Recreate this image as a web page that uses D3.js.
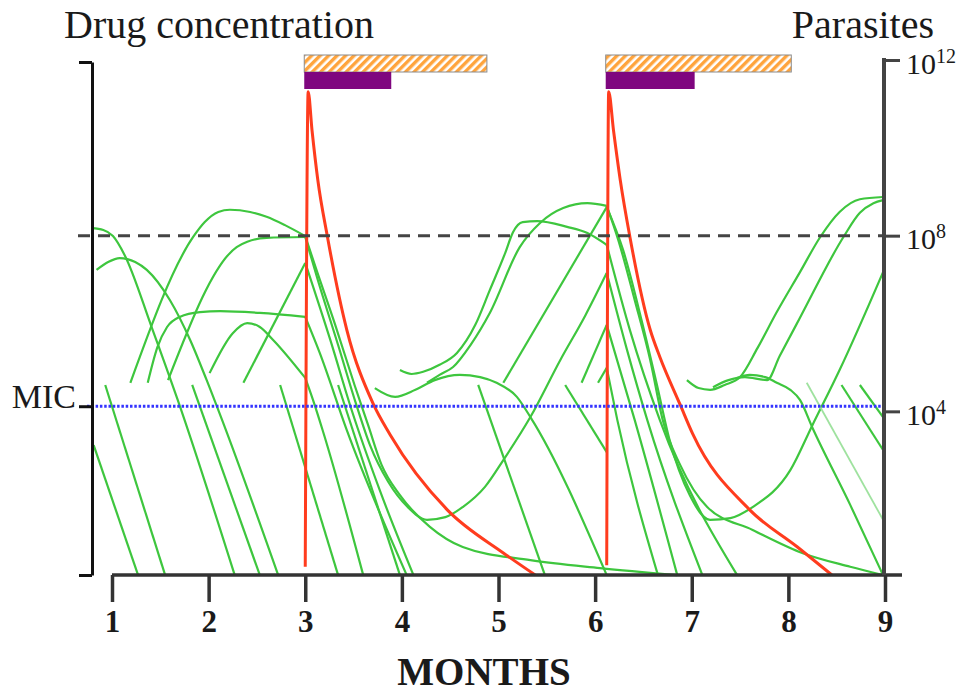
<!DOCTYPE html>
<html>
<head>
<meta charset="utf-8">
<title>Drug concentration and parasites</title>
<script src="https://cdn.jsdelivr.net/npm/d3@7"></script>
<style>
	body, html {
		margin: 0;
		background: #fff;
	}
	svg text {
		font-family: "Liberation Serif", "Times New Roman", serif;
		fill: #1a1a1a;
	}
</style>
</head>
<body>
<div id="chart"></div>
<script>
	// ---- data ----
	var months = [1, 2, 3, 4, 5, 6, 7, 8, 9];
	var parasiteTicks = [1e4, 1e8, 1e12];
	var treatStart = [3.0, 6.12];   // month each course starts
	var purpleEnd = [3.89, 7.03];
	var hatchEnd = [4.88, 8.03];
	var micLevel = 32.9;            // drug concentration units (0-100)
	var dashedLevel = 1e8;          // parasites

	// drug concentration, [month, concentration]
	var drugFirst = [[3.0, 1.6], [3.03, 94.2], [3.07, 86.7], [3.13, 77.0], [3.23, 65.9], [3.43, 47.8],
		[3.70, 33.5], [3.88, 27.3], [4.47, 12.7], [5.05, 4.3], [5.38, 0]];
	var drugSecond = [[6.12, 1.9], [6.14, 94.2], [6.19, 86.7], [6.26, 77.0], [6.36, 65.9], [6.57, 47.8],
		[6.67, 42.5], [6.88, 33.2], [7.01, 27.5], [7.60, 12.7], [8.09, 5.5], [8.45, 0]];

	// parasite trajectories, [month, log10 parasites]
	var wave1 = [
		[[0.79, 8.17], [0.91, 8.13], [1.01, 7.99], [1.13, 7.56], [1.41, 5.92], [1.68, 4.26], [2.27, 0.27]],
		[[0.84, 7.22], [0.96, 7.40], [1.08, 7.49], [1.24, 7.40], [1.36, 7.22], [1.60, 6.53], [1.81, 5.62],
			[1.98, 4.71], [2.14, 3.80], [2.72, 0.27]],
		[[0.81, 3.23], [1.27, 0.27]],
		[[0.93, 4.60], [1.55, 0.27]],
		[[1.83, 4.60], [2.53, 0.27]],
		[[2.74, 4.60], [3.34, 0.27]],
		[[1.19, 4.65], [1.84, 7.97], [1.96, 8.31], [2.10, 8.54], [2.22, 8.59], [2.43, 8.54], [2.60, 8.43],
			[2.79, 8.24], [3.0, 7.99], [3.11, 7.26], [3.31, 5.97], [3.51, 4.60], [3.65, 3.69], [3.79, 2.78],
			[3.98, 2.09], [4.29, 1.37], [4.63, 0.91], [5.33, 0.61], [6.05, 0.43], [6.85, 0.27]],
		[[1.37, 4.65], [1.47, 5.46], [1.57, 5.92], [1.70, 6.15], [1.91, 6.26], [2.12, 6.28], [2.53, 6.24],
			[3.0, 6.15], [3.15, 5.33], [3.43, 3.57], [4.05, 0.27]],
		[[1.58, 4.71], [2.29, 7.74], [2.40, 7.86], [2.60, 7.95], [3.0, 7.97], [3.13, 6.99], [3.34, 5.51],
			[3.53, 4.14], [3.67, 3.23], [3.86, 2.39], [4.06, 1.82], [4.26, 1.53], [4.45, 1.59], [4.63, 1.82],
			[4.86, 2.28], [5.05, 2.89], [5.33, 3.87], [5.64, 5.17], [5.90, 6.19], [6.12, 7.15], [6.33, 5.40],
			[6.54, 3.80], [7.11, 0.27]],
		[[2.01, 4.87], [2.25, 5.78], [2.40, 6.01], [2.53, 5.92], [2.67, 5.62], [3.0, 4.76], [3.08, 4.26],
			[3.18, 3.57], [3.60, 0.27]],
		[[2.36, 4.65], [3.0, 7.38], [3.26, 5.62], [3.48, 4.03], [3.77, 2.21], [4.12, 0.27]],
		[[3.34, 4.60], [3.98, 0.27]]
	];
	var wave2 = [
		[[3.98, 4.94], [4.10, 4.85], [4.22, 4.90], [4.39, 5.06], [4.57, 5.33], [4.76, 5.97], [4.91, 6.76],
			[5.07, 7.61], [5.15, 8.08], [5.25, 8.31], [5.40, 8.33], [5.71, 8.20], [5.92, 8.06], [6.12, 7.79],
			[6.36, 5.85], [6.67, 3.80], [7.47, 0.27]],
		[[4.26, 4.65], [4.39, 4.83], [4.53, 5.01], [4.71, 5.51], [4.91, 6.24], [5.22, 7.74], [5.43, 8.29],
			[5.67, 8.63], [5.92, 8.74], [6.12, 8.68], [6.24, 7.90], [6.41, 6.53], [6.57, 5.17], [6.70, 3.80],
			[6.88, 2.78], [7.16, 1.82], [7.63, 1.30], [8.15, 0.77], [8.64, 0.46], [8.98, 0.27]],
		[[5.05, 4.65], [6.12, 8.65], [6.29, 7.67], [6.48, 6.08], [6.64, 4.60], [6.77, 3.35], [6.98, 2.09],
			[7.19, 1.53], [7.40, 1.57], [7.63, 1.82], [8.02, 2.66], [8.25, 3.69], [8.53, 4.94], [8.98, 7.17]],
		[[5.86, 4.65], [6.12, 5.97], [6.41, 3.80], [6.85, 0.27]],
		[[6.03, 4.65], [6.12, 4.99], [6.23, 3.80], [6.65, 0.27]],
		[[3.72, 4.53], [3.93, 4.33], [4.14, 4.49], [4.34, 4.71], [4.60, 4.83], [4.81, 4.78], [4.98, 4.65],
			[5.19, 4.33], [5.33, 3.87], [6.12, 0.27]],
		[[4.79, 4.60], [5.48, 0.27]],
		[[5.69, 4.60], [6.12, 3.07]]
	];
	var wave3 = [
		[[6.95, 4.71], [7.07, 4.53], [7.19, 4.49], [7.34, 4.60], [7.50, 4.78], [7.68, 5.44], [7.88, 6.26],
			[8.12, 7.17], [8.33, 7.97], [8.53, 8.54], [8.74, 8.83], [8.98, 8.88]],
		[[7.22, 4.55], [7.38, 4.71], [7.55, 4.78], [7.78, 4.71], [7.91, 5.26], [8.12, 6.13], [8.57, 7.97],
			[8.74, 8.52], [8.88, 8.74], [8.98, 8.81]],
		[[7.47, 4.76], [7.60, 4.83], [7.76, 4.78], [7.88, 4.65], [8.02, 4.49], [8.12, 4.26], [8.25, 3.62],
			[8.64, 1.87], [8.98, 0.27]],
		[[8.55, 4.60], [8.98, 3.12]],
		[[8.74, 4.60], [8.98, 3.87]]
	];
	var fadedLine = [[8.19, 4.65], [8.98, 1.53]];

	// ---- layout ----
	var w = 972, h = 693;
	var plotBottom = 575;
	var leftAxisX = 92;

	var x = d3.scaleLinear().domain([1, 9]).range([112, 885]);
	var yP = d3.scaleLog().domain([1, 1e12]).range([587, 60]);
	var yD = d3.scaleLinear().domain([0, 100]).range([plotBottom, 62]);

	var svg = d3.select("#chart").append("svg")
		.attr("width", w)
		.attr("height", h);

	var defs = svg.append("defs");
	var pat = defs.append("pattern")
		.attr("id", "hatch")
		.attr("patternUnits", "userSpaceOnUse")
		.attr("width", 6)
		.attr("height", 6)
		.attr("patternTransform", "rotate(45)");
	pat.append("rect").attr("width", 6).attr("height", 6).attr("fill", "#fff");
	pat.append("rect").attr("width", 3.4).attr("height", 6).attr("fill", "#ffa43c");

	// split a trajectory where it meets the start of a course, so the bend stays sharp
	function pieces(line) {
		var out = [], cur = [line[0]];
		for (var i = 1; i < line.length; i++) {
			cur.push(line[i]);
			var hit = treatStart.some(function (t) { return Math.abs(line[i][0] - t) < 0.011; });
			if (hit && i < line.length - 1) {
				out.push(cur);
				cur = [line[i]];
			}
		}
		out.push(cur);
		return out;
	}

	var parasitePath = d3.line()
		.x(function (d) { return x(d[0]); })
		.y(function (d) { return yP(Math.pow(10, d[1])); })
		.curve(d3.curveMonotoneX);

	var drugPath = d3.line()
		.x(function (d) { return x(d[0]); })
		.y(function (d) { return yD(d[1]); })
		.curve(d3.curveMonotoneX);

	var allLines = [];
	wave1.concat(wave2, wave3).forEach(function (l) {
		allLines = allLines.concat(pieces(l));
	});

	svg.append("g").attr("class", "parasites")
		.selectAll("path").data(allLines)
		.enter().append("path")
		.attr("d", parasitePath)
		.attr("fill", "none")
		.attr("stroke", "#3ec63e")
		.attr("stroke-width", 2.2)
		.attr("stroke-linejoin", "round");

	svg.append("path")
		.datum(fadedLine)
		.attr("d", parasitePath)
		.attr("fill", "none")
		.attr("stroke", "#9fe29f")
		.attr("stroke-width", 1.8);

	// drug curves
	svg.append("g").attr("class", "drug")
		.selectAll("path").data([drugFirst, drugSecond])
		.enter().append("path")
		.attr("d", drugPath)
		.attr("fill", "none")
		.attr("stroke", "#ff3c1e")
		.attr("stroke-width", 3)
		.attr("stroke-linejoin", "round");

	// 10^8 threshold
	svg.append("line")
		.attr("x1", 78).attr("x2", x(9) - 2)
		.attr("y1", yP(dashedLevel)).attr("y2", yP(dashedLevel))
		.attr("stroke", "#444")
		.attr("stroke-width", 3)
		.attr("stroke-dasharray", "12,8");

	// MIC
	svg.append("line")
		.attr("x1", 87).attr("x2", x(9) - 2)
		.attr("y1", yD(micLevel)).attr("y2", yD(micLevel))
		.attr("stroke", "#3434ff")
		.attr("stroke-width", 3)
		.attr("stroke-dasharray", "2.5,1.8");

	// ---- axes ----
	var xAxis = d3.axisBottom(x)
		.tickValues(months)
		.tickSize(27)
		.tickSizeOuter(0)
		.tickFormat(d3.format("d"));
	var gx = svg.append("g")
		.attr("transform", "translate(0," + plotBottom + ")")
		.call(xAxis);
	gx.select(".domain")
		.attr("d", "M" + x(1) + ",0H" + (x(9) + 17))
		.attr("stroke", "#333")
		.attr("stroke-width", 3.5);
	gx.selectAll(".tick line").attr("stroke", "#333").attr("stroke-width", 3.5);
	gx.selectAll(".tick text")
		.attr("y", 57).attr("dy", 0)
		.style("font-size", "31px")
		.style("font-weight", "bold");

	var yAxisL = d3.axisLeft(yD)
		.tickValues([0, micLevel, 100])
		.tickSize(13)
		.tickSizeOuter(0)
		.tickFormat(function (d) { return d === micLevel ? "MIC" : ""; });
	var gl = svg.append("g")
		.attr("transform", "translate(" + leftAxisX + ",0)")
		.call(yAxisL);
	gl.select(".domain").attr("stroke", "#111").attr("stroke-width", 3);
	gl.selectAll(".tick line").attr("stroke", "#111").attr("stroke-width", 3);
	gl.selectAll(".tick text")
		.attr("x", -16).attr("y", 1).attr("dy", 0)
		.style("font-size", "34px");

	var yAxisR = d3.axisRight(yP)
		.tickValues(parasiteTicks)
		.tickSize(16)
		.tickSizeOuter(0)
		.tickFormat("");
	var gr = svg.append("g")
		.attr("transform", "translate(" + (x(9) - 1) + ",0)")
		.call(yAxisR);
	gr.select(".domain")
		.attr("d", "M0," + plotBottom + "V" + (yP(1e12) - 2))
		.attr("stroke", "#444")
		.attr("stroke-width", 4);
	gr.selectAll(".tick line").attr("stroke", "#444").attr("stroke-width", 3);
	gr.selectAll(".tick text").remove();
	gr.selectAll(".tick").each(function (d) {
		var t = d3.select(this).append("text")
			.attr("x", 22).attr("y", 13)
			.attr("text-anchor", "start")
			.style("font-size", "30px");
		t.append("tspan").text("10");
		t.append("tspan")
			.attr("dy", -11)
			.style("font-size", "20px")
			.text(Math.round(Math.log10(d)));
	});

	// ---- treatment bars ----
	var bars = svg.append("g").attr("class", "courses");
	bars.selectAll("rect.hatch").data(treatStart)
		.enter().append("rect")
		.attr("class", "hatch")
		.attr("x", function (d) { return x(d) - 1; })
		.attr("y", 55)
		.attr("width", function (d, i) { return x(hatchEnd[i]) - x(d) + 1; })
		.attr("height", 17)
		.attr("fill", "url(#hatch)")
		.attr("stroke", "#8a8a8a")
		.attr("stroke-width", 1);
	bars.selectAll("rect.dose").data(treatStart)
		.enter().append("rect")
		.attr("class", "dose")
		.attr("x", function (d) { return x(d) - 1; })
		.attr("y", 72)
		.attr("width", function (d, i) { return x(purpleEnd[i]) - x(d) + 1; })
		.attr("height", 17)
		.attr("fill", "#7f067f");

	// ---- titles ----
	svg.append("text")
		.attr("x", 64).attr("y", 38)
		.style("font-size", "40px")
		.text("Drug concentration");
	svg.append("text")
		.attr("x", 934).attr("y", 38)
		.attr("text-anchor", "end")
		.style("font-size", "40px")
		.text("Parasites");
	svg.append("text")
		.attr("x", 484).attr("y", 685)
		.attr("text-anchor", "middle")
		.style("font-size", "39px")
		.style("font-weight", "bold")
		.text("MONTHS");
</script>
</body>
</html>
